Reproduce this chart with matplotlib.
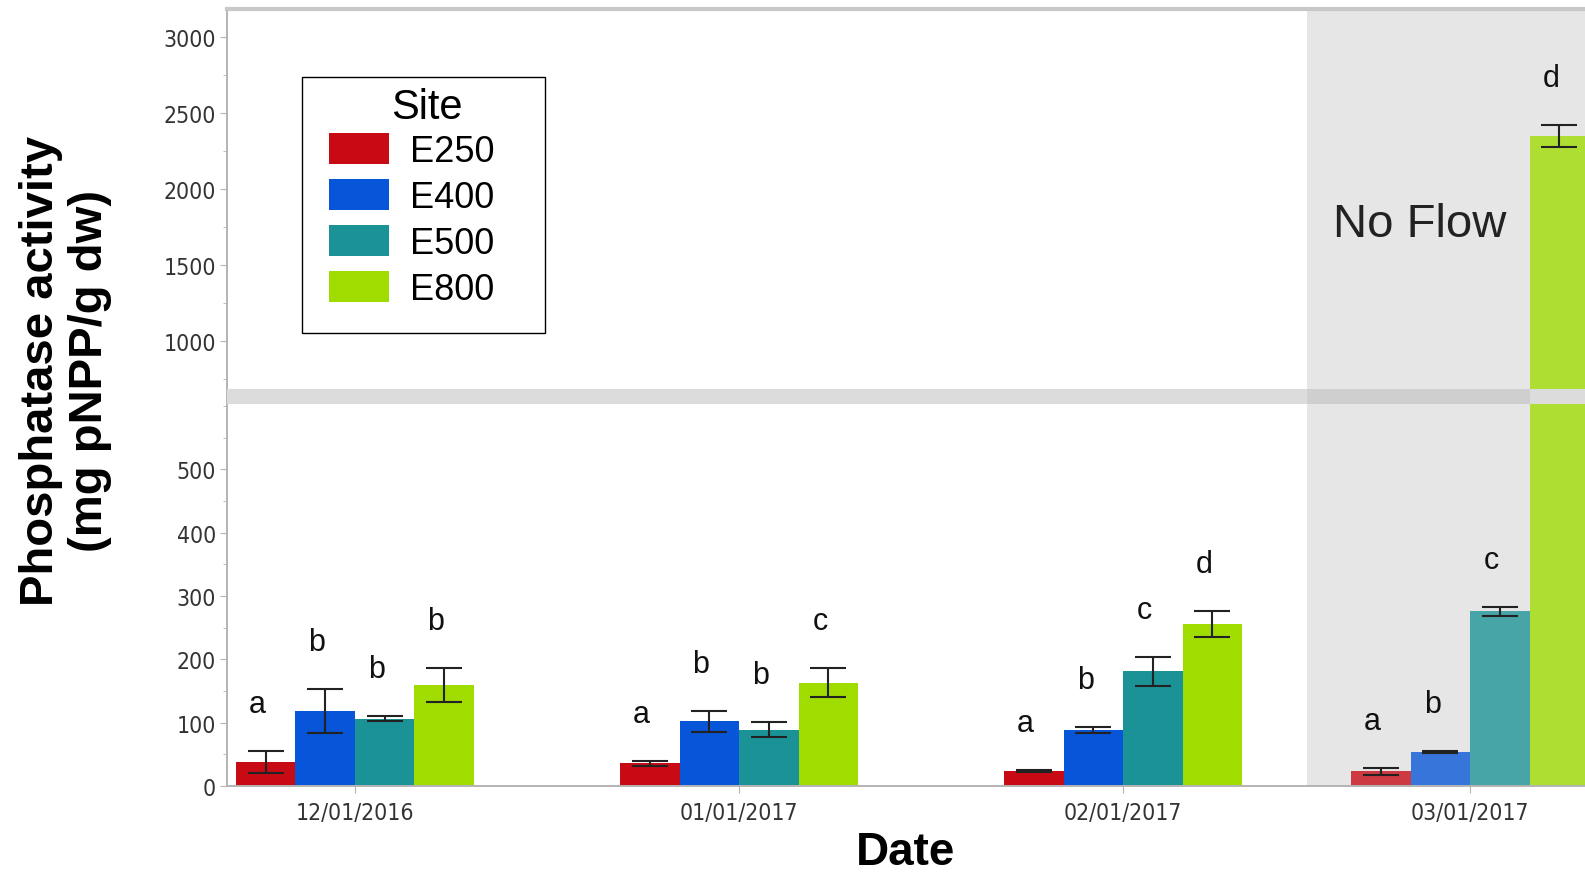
import datetime as dt
import matplotlib
matplotlib.use("Agg")
import matplotlib.pyplot as plt
import matplotlib.dates as mdates
from matplotlib.patches import Patch, Rectangle
import numpy as np

# sampling dates and sites
dates = [dt.date(2016, 12, 1), dt.date(2017, 1, 1), dt.date(2017, 2, 1), dt.date(2017, 3, 1)]
sites = ["E250", "E400", "E500", "E800"]

# mean phosphatase activity per site (rows) and date (columns)
means = {
    "E250": [38, 36, 24, 23],
    "E400": [119, 102, 89, 54],
    "E500": [106, 89, 181, 276],
    "E800": [159, 163, 256, 2347],
}
errors = {
    "E250": [18, 4, 2, 5],
    "E400": [35, 17, 5, 2],
    "E500": [4, 12, 23, 7],
    "E800": [27, 23, 20, 73],
}
# significance letters
letters = {
    "E250": ["a", "a", "a", "a"],
    "E400": ["b", "b", "b", "b"],
    "E500": ["b", "b", "c", "c"],
    "E800": ["b", "c", "d", "d"],
}
no_flow_from = 3  # index of the first date without flow

colors = ["#c80a14", "#0755d8", "#1a9296", "#a0dc00"]
plt.rcParams["font.family"] = ["Liberation Sans", "DejaVu Sans"]
tick_font = {"family": "DejaVu Sans", "stretch": "condensed", "size": 16.5}

fig = plt.figure(figsize=(15.85, 8.78), dpi=100)
ax_top = fig.add_axes([0.1432, 0.5558, 0.8568, 0.4328])
ax_bot = fig.add_axes([0.1432, 0.1036, 0.8568, 0.4522])

x = mdates.date2num(dates)
w = 4.8  # bar width in days
offsets = (np.arange(len(sites)) - 1.5) * w
nf_start = x[no_flow_from] - 2.75 * w

low_max, band_top = 603, 627
ax_bot.set_ylim(0, band_top)
ax_top.set_ylim(684, 3184)

for ax in (ax_top, ax_bot):
    ax.axvspan(nf_start, x[-1] + 10 * w, color="#e6e6e6", zorder=0, lw=0)
    for i, s in enumerate(sites):
        for j in range(len(dates)):
            alpha = 0.78 if j >= no_flow_from else 1.0
            ax.bar(x[j] + offsets[i], means[s][j], width=w, color=colors[i],
                   alpha=alpha, zorder=2, lw=0)
        ax.errorbar(x + offsets[i], means[s], yerr=errors[s], fmt="none",
                    ecolor="#222222", elinewidth=1.5, capsize=13, capthick=1.5, zorder=3)
    ax.set_xlim(x[0] - 2.15 * w, x[-1] + 1.93 * w)
    ax.spines["right"].set_visible(False)
    ax.spines["left"].set_color("#b4b4b4")
    ax.spines["left"].set_linewidth(1.4)
    ax.tick_params(axis="y", which="both", direction="out", color="#b4b4b4",
                   labelcolor="#333333", pad=3)
    ax.tick_params(axis="y", which="major", length=5)
    ax.tick_params(axis="y", which="minor", length=3)

# letters above the error bars
for i, s in enumerate(sites):
    for j in range(len(dates)):
        top = means[s][j] + errors[s][j]
        ax = ax_top if top > low_max else ax_bot
        ax.annotate(letters[s][j], (x[j] + offsets[i], top), xytext=(-6, 28),
                    textcoords="offset points", ha="center", va="baseline",
                    fontsize=22, color="#111111", zorder=6)

# break band between the two panels
ax_bot.axhspan(low_max, band_top, color="#dcdcdc", lw=0, zorder=5)
ax_bot.add_patch(Rectangle((nf_start, low_max), x[-1] + offsets[3] - w / 2 - nf_start,
                           band_top - low_max, color="#cfcfcf", lw=0, zorder=5))

# upper panel
ax_top.spines["bottom"].set_visible(False)
ax_top.spines["top"].set_color("#c8c8c8")
ax_top.spines["top"].set_linewidth(3)
ax_top.set_xticks([])
ax_top.set_yticks(np.arange(1000, 3001, 500))
ax_top.set_yticks(np.arange(750, 3101, 250), minor=True)
ax_top.set_yticklabels([str(v) for v in range(1000, 3001, 500)], fontdict=tick_font)
ax_top.text(0.878, 0.434, "No Flow", transform=ax_top.transAxes, ha="center",
            va="center", fontsize=34, color="#222222")

# lower panel
ax_bot.spines["top"].set_visible(False)
ax_bot.spines["bottom"].set_color("#b4b4b4")
ax_bot.spines["bottom"].set_linewidth(1.4)
ax_bot.set_yticks(np.arange(0, 501, 100))
ax_bot.set_yticks(np.arange(50, 601, 50), minor=True)
ax_bot.set_yticklabels([str(v) for v in range(0, 501, 100)], fontdict=tick_font)
ax_bot.set_xticks(x)
ax_bot.set_xticklabels([d.strftime("%m/%d/%Y") for d in dates], fontdict=tick_font)
ax_bot.tick_params(axis="x", direction="out", length=5, color="#b4b4b4",
                   labelcolor="#333333", pad=6)

# legend: boxed key with a centred title
handles = [Patch(facecolor=c, edgecolor="none") for c in colors]
leg = fig.legend(handles, sites, loc="upper left", bbox_to_anchor=(0.2076, 0.8475),
                 borderaxespad=0, borderpad=0, fontsize=26, frameon=False,
                 handlelength=1.66, handleheight=0.95, handletextpad=0.58,
                 labelspacing=0.28)
fig.patches.append(Rectangle((0.1905, 0.6196), 0.1533, 0.2916, transform=fig.transFigure,
                             facecolor="white", edgecolor="black", lw=1.0, zorder=4))
leg.set_zorder(5)
fig.text(0.2694, 0.8645, "Site", ha="center", va="baseline", fontsize=30, zorder=6)

fig.text(0.0415, 0.577, "Phosphatase activity\n(mg pNPP/g dw)", rotation=90,
         ha="center", va="center", fontsize=34, fontweight="bold", linespacing=1.15)
fig.text(0.5716, 0.0145, "Date", ha="center", va="baseline", fontsize=33, fontweight="bold")

fig.savefig("out.png", dpi=100)
